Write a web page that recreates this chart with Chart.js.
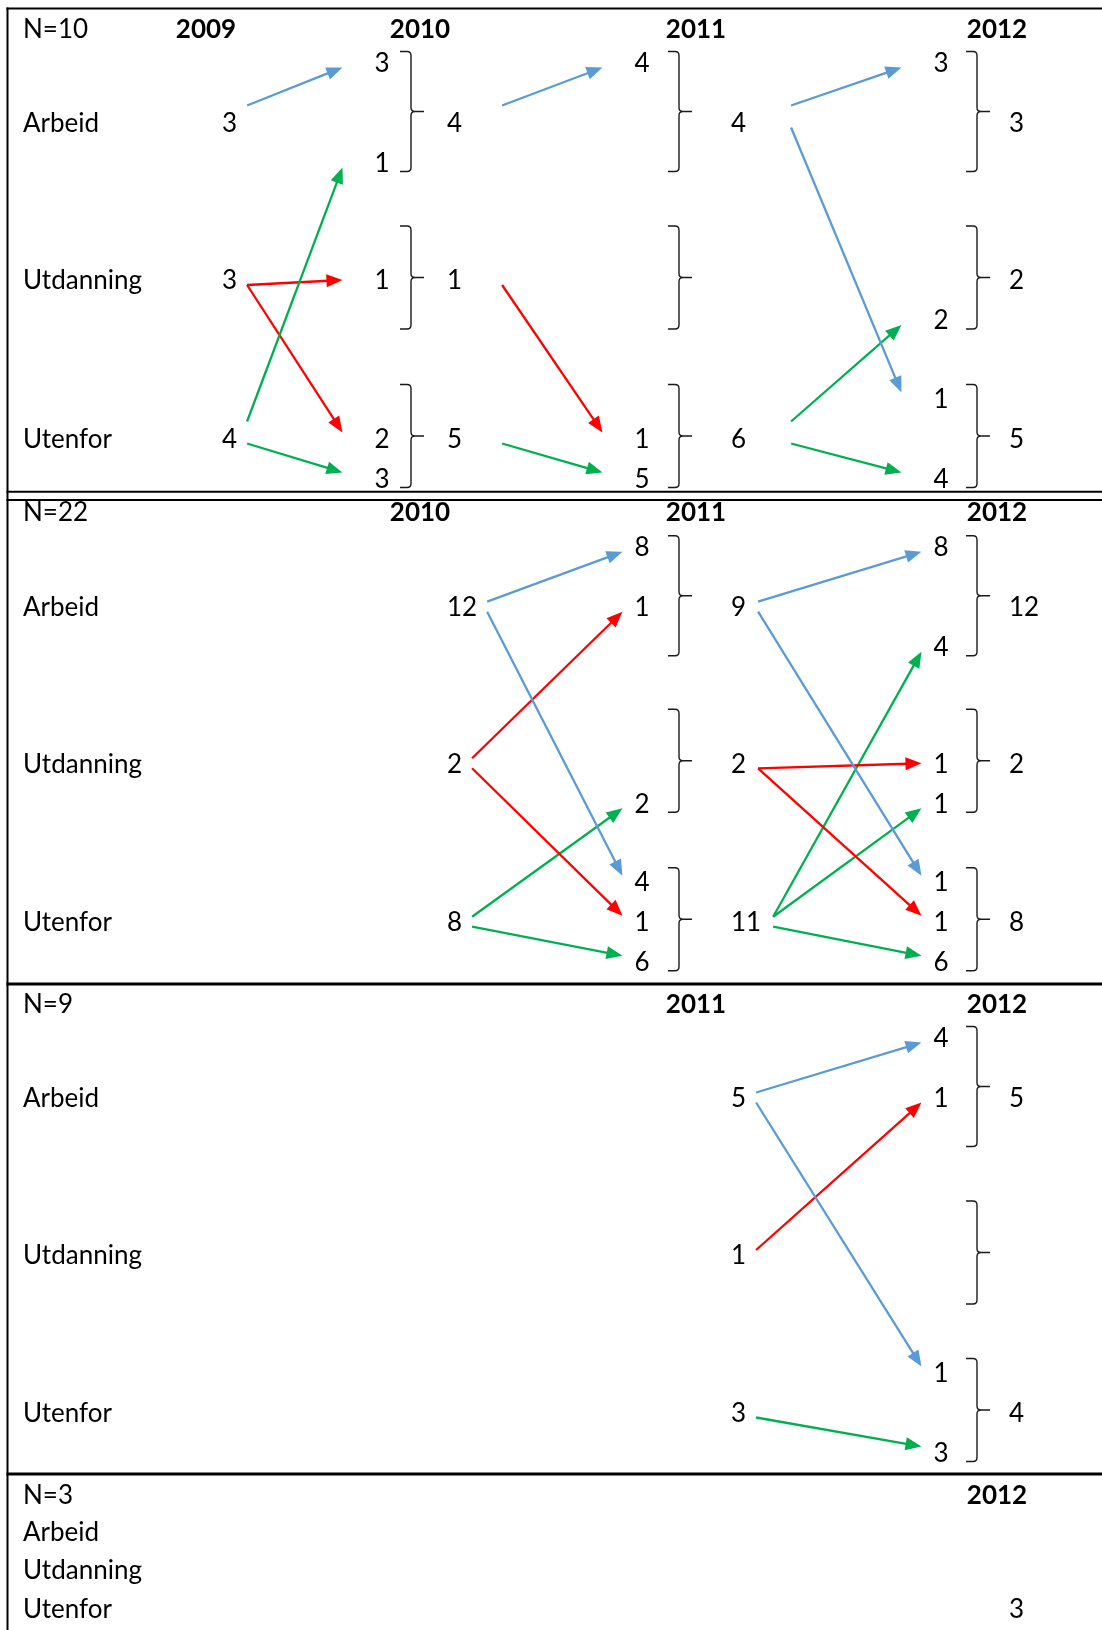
<!DOCTYPE html>
<html lang="no">

<head>
  <meta charset="utf-8">
  <title>Overganger mellom arbeid, utdanning og utenfor</title>
  <script src="https://cdn.jsdelivr.net/npm/chart.js"></script>
  <style>
    html, body { margin: 0; padding: 0; background: #ffffff; }
    #chart { display: block; }
  </style>
</head>

<body>
  <canvas id="chart" width="1102" height="1630"></canvas>

  <script>
    // ---- data -------------------------------------------------------------
    const states = ['Arbeid', 'Utdanning', 'Utenfor'];
    const years = ['2009', '2010', '2011', '2012'];

    // antall per status og år (null = året er ikke med for gruppen)
    const totalsN10 = [[3, 3, 4], [4, 1, 5], [4, 0, 6], [3, 2, 5]];
    const totalsN22 = [null, [12, 2, 8], [9, 2, 11], [12, 2, 8]];
    const totalsN9 = [null, null, [5, 1, 3], [5, 0, 4]];
    const totalsN3 = [null, null, null, [0, 0, 3]];

    // overganger: [fra år, fra status, til status, antall]
    const flowsN10 = [
      [0, 0, 0, 3], [0, 2, 0, 1], [0, 1, 1, 1], [0, 1, 2, 2], [0, 2, 2, 3],
      [1, 0, 0, 4], [1, 1, 2, 1], [1, 2, 2, 5],
      [2, 0, 0, 3], [2, 0, 2, 1], [2, 2, 1, 2], [2, 2, 2, 4]
    ];
    const flowsN22 = [
      [1, 0, 0, 8], [1, 0, 2, 4], [1, 1, 0, 1], [1, 1, 2, 1], [1, 2, 1, 2], [1, 2, 2, 6],
      [2, 0, 0, 8], [2, 0, 2, 1], [2, 1, 1, 1], [2, 1, 2, 1], [2, 2, 0, 4], [2, 2, 1, 1], [2, 2, 2, 6]
    ];
    const flowsN9 = [[2, 0, 0, 4], [2, 0, 2, 1], [2, 1, 0, 1], [2, 2, 2, 3]];
    const flowsN3 = [];

    const cohorts = [
      { label: 'N=10', first: 0, totals: totalsN10, flows: flowsN10 },
      { label: 'N=22', first: 1, totals: totalsN22, flows: flowsN22 },
      { label: 'N=9', first: 2, totals: totalsN9, flows: flowsN9 },
      { label: 'N=3', first: 3, totals: totalsN3, flows: flowsN3 }
    ];

    // ---- layout (scale units = page pixels) ---------------------------------
    const W = 1102, H = 1630;
    const stateColors = ['#5B9BD5', '#FF0000', '#00B050'];
    const FONT = 'Lato, "Noto Sans", sans-serif';
    const FS = 26;
    const labelX = 23;
    const colHeadX = [206, 420, 696, 997];
    const colTotalX = [222, 447, 731, 1009];
    const colSubX = [null, 382, 642, 941];
    const braceX = [null, 411, 679, 977];
    const panels = [
      { header: 28.5, rows: [122.5, 280, 438.5], tailGap: [10, 40, 45], headGap: 32, lift: 17 },
      { header: 511.5, rows: [606.7, 763.3, 921.7], tailGap: [0, 10, 12], headGap: 12, lift: 5 },
      { header: 1003.5, rows: [1097.5, 1255, 1412.5], tailGap: [0, 0, 10], headGap: 12, lift: 5 },
      { header: 1495, rows: [1532, 1570, 1609], tailGap: [0, 0, 0], headGap: 0, lift: 0 }
    ];
    const hRules = [[8.5, 2], [491.7, 2], [500, 2], [984, 3], [1474, 3]];
    const vRuleX = 7.5;

    // offset of a sub count inside its group, by origin state
    function slotOffset(from, to) {
      if (from === 0) return to === 0 ? -60 : -40;
      return from === 1 ? 0 : 40;
    }

    const measure = document.createElement('canvas').getContext('2d');
    function textW(t, bold) {
      measure.font = (bold ? 'bold ' : '') + FS + 'px ' + FONT;
      return measure.measureText(t).width;
    }

    // ---- build marks from the data -----------------------------------------
    let texts = [];
    let arrows = [];
    let braces = [];

    cohorts.forEach(function (c, p) {
      let L = panels[p];
      texts.push({ x: labelX, y: L.header, text: c.label, align: 'left' });
      for (let yi = c.first; yi < years.length; yi++) {
        texts.push({ x: colHeadX[yi], y: L.header, text: years[yi], align: 'center', bold: true });
      }
      states.forEach(function (s, r) {
        texts.push({ x: labelX, y: L.rows[r], text: s, align: 'left' });
      });
      c.totals.forEach(function (t, yi) {
        if (!t) return;
        t.forEach(function (v, r) {
          if (v > 0) texts.push({ x: colTotalX[yi], y: L.rows[r], text: String(v), align: 'left' });
        });
      });

      let recv = [];
      c.flows.forEach(function (f) { if (recv.indexOf(f[0] + 1) < 0) recv.push(f[0] + 1); });
      recv.forEach(function (yi) {
        states.forEach(function (s, r) {
          braces.push({ x: braceX[yi], top: L.rows[r] + (r === 0 ? -71 : -54), bottom: L.rows[r] + 49 });
        });
      });

      c.flows.forEach(function (f) {
        let yi = f[0], from = f[1], to = f[2], n = f[3];
        let tx = colSubX[yi + 1];
        let ty = L.rows[to] + slotOffset(from, to);
        let sy = L.rows[from];
        texts.push({ x: tx, y: ty, text: String(n), align: 'center' });
        let src = String(c.totals[yi][from]);
        let rise = ty - sy;
        arrows.push({
          x0: colTotalX[yi] + textW(src) + L.tailGap[yi],
          y0: sy + (rise < 0 ? -L.lift : 5),
          x1: tx - textW(String(n)) / 2 - L.headGap,
          y1: ty + (rise < 0 ? 5 : rise > 0 ? -6 : 0),
          color: stateColors[from]
        });
      });
    });

    const HEAD_LEN = 16, HEAD_HALF = 6.5;

    let datasets = arrows.map(function (a) {
      let dx = a.x1 - a.x0, dy = a.y1 - a.y0, len = Math.hypot(dx, dy);
      let bx = a.x1 - dx / len * (HEAD_LEN - 2), by = a.y1 - dy / len * (HEAD_LEN - 2);
      return {
        label: 'arrow',
        data: [{ x: a.x0, y: a.y0 }, { x: bx, y: by }],
        showLine: true,
        borderColor: a.color,
        borderWidth: 2.3,
        pointRadius: 0,
        fill: false
      };
    });
    datasets.push({
      label: 'text',
      data: texts,
      pointRadius: 0,
      showLine: false
    });

    // ---- drawing plugin ------------------------------------------------------
    const decorPlugin = {
      id: 'decor',
      afterDatasetsDraw: function (chart) {
        let ctx = chart.ctx;
        let xs = chart.scales.x, ys = chart.scales.y;
        ctx.save();

        // table rules
        ctx.strokeStyle = '#000000';
        hRules.forEach(function (h) {
          ctx.lineWidth = h[1];
          ctx.beginPath();
          ctx.moveTo(xs.getPixelForValue(vRuleX - 1), ys.getPixelForValue(h[0]));
          ctx.lineTo(xs.getPixelForValue(W), ys.getPixelForValue(h[0]));
          ctx.stroke();
        });
        ctx.lineWidth = 2;
        ctx.beginPath();
        ctx.moveTo(xs.getPixelForValue(vRuleX), ys.getPixelForValue(hRules[0][0] - 1));
        ctx.lineTo(xs.getPixelForValue(vRuleX), ys.getPixelForValue(H));
        ctx.stroke();

        // arrow heads
        arrows.forEach(function (a) {
          let x0 = xs.getPixelForValue(a.x0), y0 = ys.getPixelForValue(a.y0);
          let x1 = xs.getPixelForValue(a.x1), y1 = ys.getPixelForValue(a.y1);
          let ang = Math.atan2(y1 - y0, x1 - x0);
          ctx.fillStyle = a.color;
          ctx.beginPath();
          ctx.moveTo(x1, y1);
          ctx.lineTo(x1 - HEAD_LEN * Math.cos(ang) + HEAD_HALF * Math.sin(ang),
            y1 - HEAD_LEN * Math.sin(ang) - HEAD_HALF * Math.cos(ang));
          ctx.lineTo(x1 - HEAD_LEN * Math.cos(ang) - HEAD_HALF * Math.sin(ang),
            y1 - HEAD_LEN * Math.sin(ang) + HEAD_HALF * Math.cos(ang));
          ctx.closePath();
          ctx.fill();
        });

        // braces
        ctx.strokeStyle = '#1a1a1a';
        ctx.lineWidth = 1.4;
        braces.forEach(function (b) {
          let x = xs.getPixelForValue(b.x);
          let top = ys.getPixelForValue(b.top), bot = ys.getPixelForValue(b.bottom);
          let mid = (top + bot) / 2, arm = 11, tip = 13, r = 4;
          ctx.beginPath();
          ctx.moveTo(x - arm, top);
          ctx.lineTo(x - r, top);
          ctx.quadraticCurveTo(x, top, x, top + r);
          ctx.lineTo(x, mid - r);
          ctx.quadraticCurveTo(x, mid, x + r, mid);
          ctx.lineTo(x + tip, mid);
          ctx.moveTo(x + r, mid);
          ctx.quadraticCurveTo(x, mid, x, mid + r);
          ctx.lineTo(x, bot - r);
          ctx.quadraticCurveTo(x, bot, x - r, bot);
          ctx.lineTo(x - arm, bot);
          ctx.stroke();
        });

        // texts, placed at the points of the text dataset
        let meta = chart.getDatasetMeta(chart.data.datasets.length - 1);
        ctx.fillStyle = '#000000';
        ctx.textBaseline = 'alphabetic';
        meta.data.forEach(function (el, i) {
          let t = texts[i];
          ctx.font = (t.bold ? 'bold ' : '') + FS + 'px ' + FONT;
          ctx.textAlign = t.align;
          ctx.fillText(t.text, el.x, el.y + FS * 0.36);
        });
        ctx.restore();
      }
    };

    new Chart(document.getElementById('chart'), {
      type: 'scatter',
      data: { datasets: datasets },
      options: {
        responsive: false,
        animation: false,
        events: [],
        layout: { padding: 0 },
        plugins: { legend: { display: false }, tooltip: { enabled: false } },
        scales: {
          x: { type: 'linear', display: false, min: 0, max: W },
          y: { type: 'linear', display: false, min: 0, max: H, reverse: true }
        }
      },
      plugins: [decorPlugin]
    });
  </script>
</body>

</html>
